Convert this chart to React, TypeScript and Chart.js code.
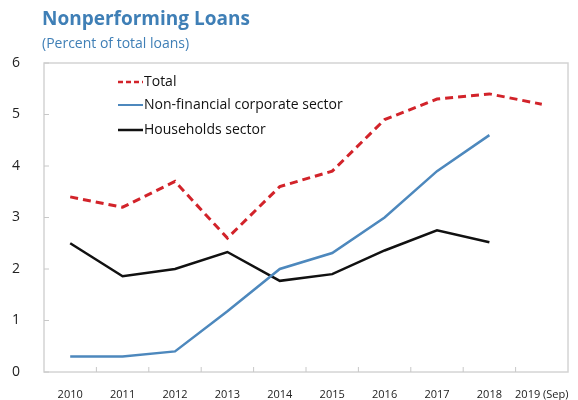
import React, { useEffect, useRef } from "react";
import { Chart, registerables } from "chart.js";

Chart.register(...registerables);

const categories = ["2010", "2011", "2012", "2013", "2014", "2015", "2016", "2017", "2018", "2019 (Sep)"];
const totalValues = [3.4, 3.2, 3.7, 2.6, 3.6, 3.9, 4.9, 5.3, 5.4, 5.2];
const corporateValues = [0.3, 0.3, 0.4, 1.18, 2.0, 2.31, 3.0, 3.9, 4.6, null];
const householdValues = [2.5, 1.86, 2.0, 2.33, 1.77, 1.9, 2.36, 2.75, 2.52, null];
const yTicks = [0, 1, 2, 3, 4, 5, 6];

const RED = "#d2232a";
const BLUE = "#4d88bd";
const BLACK = "#111111";
const TITLE_BLUE = "#3f7fb6";
const FONT = "'Open Sans', 'Noto Sans', sans-serif";

const decorPlugin = {
  id: "decor",
  beforeDatasetsDraw(chart: any) {
    const { ctx, chartArea } = chart;
    const xs = chart.scales.x;
    const ys = chart.scales.y;
    ctx.save();
    ctx.strokeStyle = "#d4d4d4";
    ctx.lineWidth = 1.5;
    ctx.strokeRect(chartArea.left, chartArea.top, chartArea.right - chartArea.left, chartArea.bottom - chartArea.top);
    ctx.strokeStyle = "#c8c8c8";
    ctx.lineWidth = 1;
    const n = categories.length;
    for (let i = 1; i < n; i++) {
      const x = (xs.getPixelForValue(i - 1) + xs.getPixelForValue(i)) / 2;
      ctx.beginPath();
      ctx.moveTo(x, chartArea.bottom);
      ctx.lineTo(x, chartArea.bottom - 5);
      ctx.stroke();
    }
    for (const v of yTicks) {
      const y = ys.getPixelForValue(v);
      ctx.beginPath();
      ctx.moveTo(chartArea.left, y);
      ctx.lineTo(chartArea.left + 5, y);
      ctx.stroke();
    }
    ctx.restore();
  },
  afterDraw(chart: any) {
    const { ctx } = chart;
    ctx.save();
    ctx.textBaseline = "middle";
    ctx.textAlign = "left";
    ctx.fillStyle = TITLE_BLUE;
    ctx.font = `bold 19px ${FONT}`;
    ctx.fillText("Nonperforming Loans", 42, 20);
    ctx.font = `14px ${FONT}`;
    ctx.fillText("(Percent of total loans)", 42, 44);

    const items = [
      { label: "Total", color: RED, dash: [5, 3], width: 2.5 },
      { label: "Non-financial corporate sector", color: BLUE, dash: [], width: 2 },
      { label: "Households sector", color: BLACK, dash: [], width: 2.5 },
    ];
    const ys = [82, 105, 130];
    items.forEach((it, i) => {
      const y = ys[i];
      ctx.strokeStyle = it.color;
      ctx.lineWidth = it.width;
      ctx.setLineDash(it.dash);
      ctx.beginPath();
      ctx.moveTo(118, y);
      ctx.lineTo(143, y);
      ctx.stroke();
      ctx.setLineDash([]);
      ctx.fillStyle = "#111111";
      ctx.font = `14px ${FONT}`;
      ctx.fillText(it.label, 144, y);
    });
    ctx.restore();
  },
};

export default function App() {
  const canvasRef = useRef<HTMLCanvasElement | null>(null);

  useEffect(() => {
    const canvas = canvasRef.current;
    if (!canvas) return;
    const chart = new Chart(canvas, {
      type: "line",
      data: {
        labels: categories,
        datasets: [
          {
            label: "Total",
            data: totalValues,
            borderColor: RED,
            borderWidth: 3,
            borderDash: [8, 5],
            pointRadius: 0,
            tension: 0,
          },
          {
            label: "Non-financial corporate sector",
            data: corporateValues,
            borderColor: BLUE,
            borderWidth: 2.5,
            pointRadius: 0,
            tension: 0,
          },
          {
            label: "Households sector",
            data: householdValues,
            borderColor: BLACK,
            borderWidth: 2.5,
            pointRadius: 0,
            tension: 0,
          },
        ],
      },
      options: {
        animation: false,
        responsive: false,
        maintainAspectRatio: false,
        layout: { padding: { left: 8, right: 10, top: 63, bottom: 0 } },
        plugins: {
          legend: { display: false },
          title: { display: false },
          tooltip: { enabled: false },
        },
        scales: {
          x: {
            offset: true,
            grid: { display: false },
            border: { display: false },
            ticks: {
              color: "#222222",
              font: { family: FONT, size: 11 },
              maxRotation: 0,
              autoSkip: false,
              padding: 8,
            },
            afterFit: (s: any) => {
              s.height = 28;
            },
          },
          y: {
            min: 0,
            max: 6,
            grid: { display: false },
            border: { display: false },
            ticks: {
              stepSize: 1,
              color: "#222222",
              font: { family: FONT, size: 14 },
              padding: 16,
            },
            afterFit: (s: any) => {
              s.width = 36;
            },
          },
        },
      },
      plugins: [decorPlugin],
    });
    return () => chart.destroy();
  }, []);

  return (
    <div style={{ position: "fixed", left: 0, top: 0, width: 578, height: 400, background: "#fff" }}>
      <canvas ref={canvasRef} width={578} height={400} style={{ width: 578, height: 400 }} />
    </div>
  );
}
